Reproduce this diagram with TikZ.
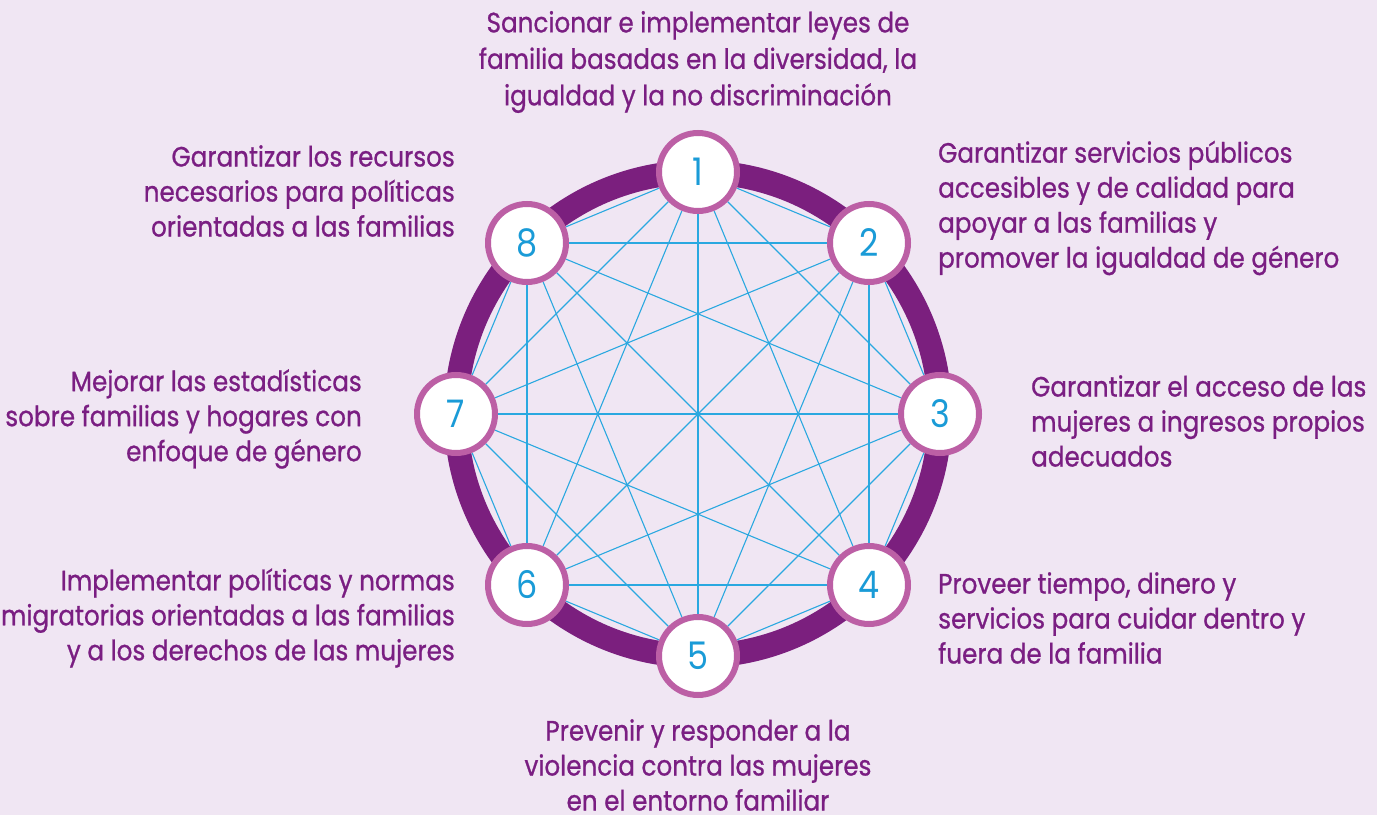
\documentclass[tikz,border=0pt]{standalone}
\usepackage{fontspec}
\setmainfont{Poppins}[FakeStretch=0.88, FakeBold=0.8]
\newfontfamily\numfont{Poppins}[FakeStretch=0.88]
\usetikzlibrary{backgrounds}

\definecolor{bglila}{HTML}{F0E6F3}
\definecolor{ringpurple}{HTML}{7B1F7E}
\definecolor{rimpink}{HTML}{BC5FA5}
\definecolor{numblue}{HTML}{1A9BD7}
\definecolor{linkblue}{HTML}{2AA8E0}
\definecolor{txtpurple}{HTML}{7A1E82}

\tikzset{
  goal/.style={draw=rimpink, line width=6pt, circle, fill=white, minimum size=78pt,
    inner sep=0pt, text=numblue, font=\numfont\fontsize{38}{38}\selectfont},
  goaltext/.style={text=txtpurple, inner sep=0pt, font=\fontsize{28}{35}\selectfont},
  link/.style={draw=linkblue, line width=1.1pt}
}

\begin{document}
\begin{tikzpicture}[x=1pt, y=1pt]
  \useasboundingbox (0,0) rectangle (1377,815);

  \node (n1) at (698,643) [goal] {1};
  \node (n2) at (869,572) [goal] {2};
  \node (n3) at (940,401) [goal] {3};
  \node (n4) at (869,230) [goal] {4};
  \node (n5) at (698,159) [goal] {5};
  \node (n6) at (527,230) [goal] {6};
  \node (n7) at (456,401) [goal] {7};
  \node (n8) at (527,572) [goal] {8};
  \coordinate (mid) at (698,401); % ring centre

  \node (t1) at (698,753) [goaltext, align=center, font=\fontsize{28}{36.5}\selectfont] {Sancionar e implementar leyes de\\familia basadas en la diversidad, la\\igualdad y la no discriminación};
  \node (t2) at (938,607) [goaltext, align=left, anchor=west] {Garantizar servicios públicos\\accesibles y de calidad para\\apoyar a las familias y\\promover la igualdad de género};
  \node (t3) at (1031,394) [goaltext, align=left, anchor=west] {Garantizar el acceso de las\\mujeres a ingresos propios\\adecuados};
  \node (t4) at (938,197) [goaltext, align=left, anchor=west] {Proveer tiempo, dinero y\\servicios para cuidar dentro y\\fuera de la familia};
  \node (t5) at (698,50) [goaltext, align=center] {Prevenir y responder a la\\violencia contra las mujeres\\en el entorno familiar};
  \node (t6) at (455,197) [goaltext, align=right, anchor=east] {Implementar políticas y normas\\migratorias orientadas a las familias\\y a los derechos de las mujeres};
  \node (t7) at (362,396) [goaltext, align=right, anchor=east] {Mejorar las estadísticas\\sobre familias y hogares con\\enfoque de género};
  \node (t8) at (455,624) [goaltext, align=right, anchor=east] {Garantizar los recursos\\necesarios para políticas\\orientadas a las familias};

  \begin{pgfonlayer}{background}
    \fill[bglila] (0,0) rectangle (1377,815);
    \draw[ringpurple, line width=24pt] (mid) circle (242);

    \draw[link] (n1) to (n2);
    \draw[link] (n1) to (n3);
    \draw[link] (n1) to (n4);
    \draw[link] (n1) to (n5);
    \draw[link] (n1) to (n6);
    \draw[link] (n1) to (n7);
    \draw[link] (n1) to (n8);
    \draw[link] (n2) to (n3);
    \draw[link] (n2) to (n4);
    \draw[link] (n2) to (n5);
    \draw[link] (n2) to (n6);
    \draw[link] (n2) to (n7);
    \draw[link] (n2) to (n8);
    \draw[link] (n3) to (n4);
    \draw[link] (n3) to (n5);
    \draw[link] (n3) to (n6);
    \draw[link] (n3) to (n7);
    \draw[link] (n3) to (n8);
    \draw[link] (n4) to (n5);
    \draw[link] (n4) to (n6);
    \draw[link] (n4) to (n7);
    \draw[link] (n4) to (n8);
    \draw[link] (n5) to (n6);
    \draw[link] (n5) to (n7);
    \draw[link] (n5) to (n8);
    \draw[link] (n6) to (n7);
    \draw[link] (n6) to (n8);
    \draw[link] (n7) to (n8);
  \end{pgfonlayer}
\end{tikzpicture}
\end{document}
